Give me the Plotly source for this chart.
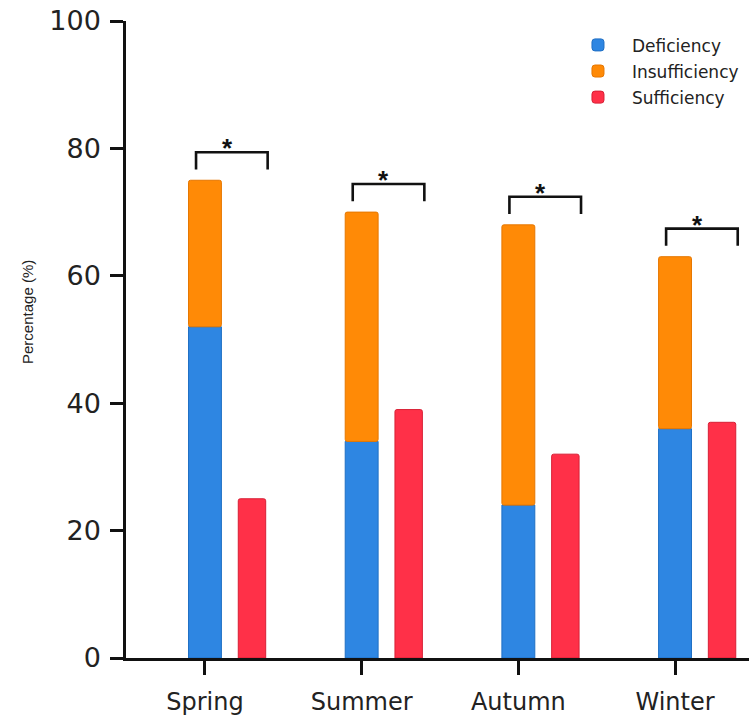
import plotly.graph_objects as go

seasons = ["Spring", "Summer", "Autumn", "Winter"]
deficiency = [52, 34, 24, 36]
insufficiency = [23, 36, 44, 27]
sufficiency = [25, 39, 32, 37]
y_ticks = [0, 20, 40, 60, 80, 100]

BLUE = "#2e86e2"
ORANGE = "#ff8a06"
RED = "#ff3048"
FONT = "DejaVu Sans, sans-serif"

xpos = list(range(len(seasons)))
red_off = 0.30
xred = [x + red_off for x in xpos]
totals = [d + i for d, i in zip(deficiency, insufficiency)]

fig = go.Figure()
fig.add_trace(go.Bar(x=xpos, y=deficiency, name="Deficiency", width=0.21, legendgroup="a",
                     marker=dict(color=BLUE, line=dict(color="#1f6fc4", width=1), cornerradius=2)))
fig.add_trace(go.Bar(x=xpos, y=insufficiency, base=deficiency, name="Insufficiency", width=0.21,
                     legendgroup="b",
                     marker=dict(color=ORANGE, line=dict(color="#e67700", width=1), cornerradius=2)))
fig.add_trace(go.Bar(x=xred, y=sufficiency, name="Sufficiency", width=0.175, legendgroup="c",
                     marker=dict(color=RED, line=dict(color="#d81f35", width=1), cornerradius=2)))

# significance brackets
for i, x in enumerate(xpos):
    top = max(totals[i], sufficiency[i]) + 4.4
    x0 = x - 0.057
    x1 = x + 0.40
    fig.add_trace(go.Scatter(x=[x0, x0, x1, x1], y=[top - 2.7, top, top, top - 2.7],
                             mode="lines", line=dict(color="#111111", width=2.6),
                             showlegend=False, hoverinfo="skip"))
    fig.add_annotation(x=(x0 + x1) / 2 - 0.03, y=top, text="<b>*</b>", showarrow=False,
                       yanchor="middle", yshift=4,
                       font=dict(size=26, color="#111111", family="Liberation Sans, Arial"))

fig.add_annotation(xref="paper", yref="paper", x=-(126 - 27) / 623, y=(658 - 312) / 637,
                   xanchor="center", yanchor="middle",
                   text="Percentage (%)", textangle=-90, showarrow=False,
                   font=dict(size=15, color="#222222", family="Liberation Sans, Arial"))

fig.update_layout(
    width=749, height=721,
    margin=dict(l=126, r=0, t=21, b=63, autoexpand=False),
    paper_bgcolor="white", plot_bgcolor="white",
    barmode="overlay",
    font=dict(family=FONT, color="#222222"),
    legend=dict(x=0.703, y=0.99, xanchor="left", yanchor="top",
                font=dict(size=17, color="#222222"), bgcolor="rgba(0,0,0,0)",
                itemwidth=58, tracegroupgap=1),
    xaxis=dict(range=[-0.504, 3.472], tickmode="array", tickvals=xpos, ticktext=seasons,
               showline=True, linecolor="#111111", linewidth=2.5, ticks="outside",
               ticklen=14, tickwidth=2.5, tickcolor="#111111", showgrid=False, zeroline=False,
               tickfont=dict(size=24, color="#222222"), ticklabelstandoff=6, automargin=False),
    yaxis=dict(range=[0, 100], tickvals=y_ticks, showline=True, linecolor="#111111",
               linewidth=2.5, ticks="outside", ticklen=13, tickwidth=2.5, tickcolor="#111111",
               showgrid=False, zeroline=False, tickfont=dict(size=27, color="#222222"),
               ticklabelstandoff=4, ticklabeloverflow="allow", automargin=False),
)

fig.write_html("out.html", config={"displayModeBar": False},
               post_script="document.body.style.margin='0';")
